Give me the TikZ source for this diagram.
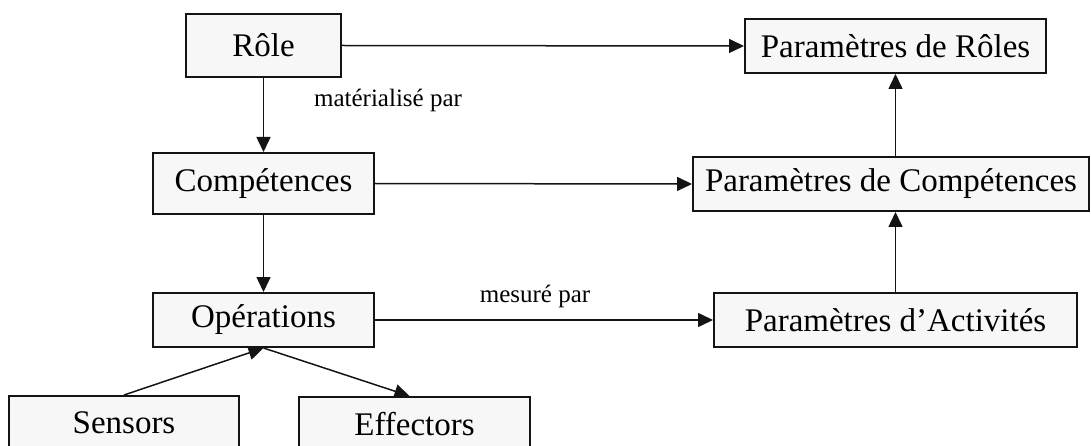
\documentclass[tikz,border=0pt]{standalone}
\usepackage{fontspec}
\setmainfont{Liberation Serif}
\usetikzlibrary{arrows.meta}
\definecolor{boxfill}{HTML}{F7F7F7}
\definecolor{ink}{HTML}{141414}
\tikzset{
  box/.style={draw=ink, fill=boxfill, line width=2pt, inner sep=0pt,
    font=\fontsize{33}{36}\selectfont},
  link/.style={draw=ink, line width=1.5pt,
    -{Triangle[length=15pt,width=14pt]}},
  tag/.style={inner sep=0pt, font=\fontsize{25}{28}\selectfont},
}
\begin{document}
\begin{tikzpicture}[x=1pt,y=-1pt]
  \useasboundingbox (0,0) rectangle (1091,446);
  % left column
  \node[box, minimum width=155pt, minimum height=63pt] (role) at (263.5,45.5) {Rôle};
  \node[box, minimum width=221pt, minimum height=61pt] (comp) at (263.5,183.5) {Compétences};
  \node[box, minimum width=221pt, minimum height=54pt] (ops) at (263.5,320) {Opérations};
  \node[box, minimum width=230pt, minimum height=54pt] (sens) at (124,423) {Sensors};
  \node[box, minimum width=231pt, minimum height=54pt] (eff) at (414.5,424) {Effectors};
  % right column
  \node[box, minimum width=301pt, minimum height=54pt] (pdr) at (895.5,46) {Paramètres de Rôles};
  \node[box, minimum width=396pt, minimum height=54pt] (pdc) at (891,184) {Paramètres de Compétences};
  \node[box, minimum width=363pt, minimum height=54pt] (pda) at (895.5,320) {Paramètres d’Activités};
  % labels
  \node[tag] (lmat) at (388,100) {matérialisé par};
  \node[tag] (lmes) at (535,296) {mesuré par};
  % connectors
  \draw[link] (role.south) -- (comp.north);
  \draw[link] (comp.south) -- (ops.north);
  \draw[link] (role.east) -- (pdr.west);
  \draw[link] (comp.east) -- (pdc.west);
  \draw[link] (ops.east) -- (pda.west);
  \draw[link] (pdr.south |- pdc.north) -- (pdr.south);
  \draw[link] (pda.north) -- (pda.north |- pdc.south);
  \draw[link] (sens.north) -- (ops.south);
  \draw[link] (ops.south) -- ([xshift=-5pt]eff.north);
\end{tikzpicture}
\end{document}
